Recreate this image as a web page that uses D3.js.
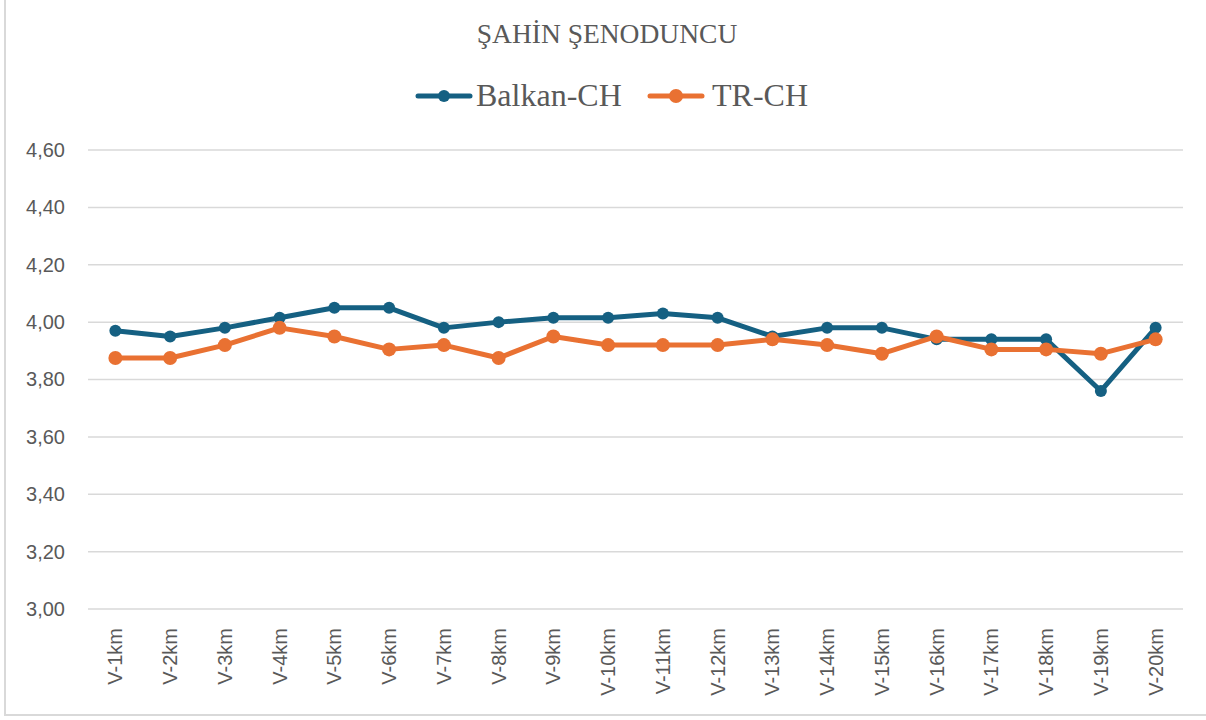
<!DOCTYPE html>
<html>
<head>
<meta charset="utf-8">
<script src="https://cdn.jsdelivr.net/npm/d3@7"></script>
<style>
  body { margin: 0; background: #fff; }
  svg { display: block; }
</style>
</head>
<body>
<div class="chart"></div>
<script>
// data
const categories = ["V-1km", "V-2km", "V-3km", "V-4km", "V-5km", "V-6km", "V-7km", "V-8km", "V-9km", "V-10km",
  "V-11km", "V-12km", "V-13km", "V-14km", "V-15km", "V-16km", "V-17km", "V-18km", "V-19km", "V-20km"];
const balkanCH = [3.97, 3.95, 3.98, 4.015, 4.05, 4.05, 3.98, 4.00, 4.015, 4.015,
  4.03, 4.015, 3.95, 3.98, 3.98, 3.94, 3.94, 3.94, 3.76, 3.98];
const trCH = [3.875, 3.875, 3.92, 3.98, 3.95, 3.905, 3.92, 3.875, 3.95, 3.92,
  3.92, 3.92, 3.94, 3.92, 3.89, 3.95, 3.905, 3.905, 3.89, 3.94];
const yTicks = [3.0, 3.2, 3.4, 3.6, 3.8, 4.0, 4.2, 4.4, 4.6];
const seriesNames = ["Balkan-CH", "TR-CH"];

const series = [
  { name: seriesNames[0], values: balkanCH, color: "#156082", r: 6 },
  { name: seriesNames[1], values: trCH, color: "#e97132", r: 7 }
];

const W = 1206, H = 720;
const margin = { top: 150, right: 23, bottom: 111, left: 88 };
const width = W - margin.left - margin.right,
  height = H - margin.top - margin.bottom;

const svg = d3.select(".chart").append("svg")
  .attr("width", W)
  .attr("height", H);

// chart frame (only left and bottom edges visible)
svg.append("line").attr("x1", 5).attr("x2", 5).attr("y1", 0).attr("y2", 716)
  .attr("stroke", "#d9d9d9").attr("stroke-width", 2);
svg.append("line").attr("x1", 4).attr("x2", W).attr("y1", 715).attr("y2", 715)
  .attr("stroke", "#d9d9d9").attr("stroke-width", 2);

// title
svg.append("text")
  .attr("x", 607).attr("y", 43)
  .attr("text-anchor", "middle")
  .style("font-family", "'Liberation Serif', 'Times New Roman', serif")
  .style("font-size", "27.5px")
  .style("fill", "#595959")
  .text("ŞAHİN ŞENODUNCU");

// legend
const legendPos = [418, 650];
series.forEach(function (s, i) {
  const lg = svg.append("g").attr("transform", `translate(${legendPos[i]}, 96)`);
  lg.append("line").attr("x1", 0).attr("x2", 52).attr("y1", 0).attr("y2", 0)
    .attr("stroke", s.color).attr("stroke-width", 5).attr("stroke-linecap", "round");
  lg.append("circle").attr("cx", 26).attr("cy", 0).attr("r", s.r).attr("fill", s.color);
  lg.append("text")
    .attr("x", i === 0 ? 58 : 62).attr("y", 10)
    .style("font-family", "'Liberation Serif', 'Times New Roman', serif")
    .style("font-size", "32px")
    .style("fill", "#595959")
    .text(s.name);
});

const g = svg.append("g").attr("transform", `translate(${margin.left}, ${margin.top})`);

const x = d3.scaleBand().domain(categories).range([0, width]);
const y = d3.scaleLinear().domain([3.0, 4.6]).range([height, 0]);

// gridlines
g.append("g")
  .selectAll("line")
  .data(yTicks)
  .enter()
  .append("line")
  .attr("x1", 0)
  .attr("x2", width)
  .attr("y1", function (d) { return y(d); })
  .attr("y2", function (d) { return y(d); })
  .attr("stroke", "#d9d9d9")
  .attr("stroke-width", 1.5);

// y axis
const fmt = function (d) { return d3.format(".2f")(d).replace(".", ","); };
const yAxis = g.append("g")
  .call(d3.axisLeft(y).tickValues(yTicks).tickFormat(fmt).tickSize(0).tickPadding(23));
yAxis.select(".domain").remove();
yAxis.selectAll("text")
  .style("font-family", "'Liberation Sans', Arial, sans-serif")
  .style("font-size", "20px")
  .style("fill", "#595959");

// x axis
const xAxis = g.append("g")
  .attr("transform", `translate(0, ${height})`)
  .call(d3.axisBottom(x).tickSize(0));
xAxis.select(".domain").remove();
xAxis.selectAll("text")
  .style("font-family", "'Liberation Sans', Arial, sans-serif")
  .style("font-size", "20px")
  .style("fill", "#595959")
  .style("text-anchor", "end")
  .attr("dx", "-19px")
  .attr("dy", "0.35em")
  .attr("y", 0)
  .attr("transform", "rotate(-90)");

// lines and markers
const line = d3.line()
  .x(function (d, i) { return x(categories[i]) + x.bandwidth() / 2; })
  .y(function (d) { return y(d); });

series.forEach(function (s) {
  g.append("path")
    .datum(s.values)
    .attr("fill", "none")
    .attr("stroke", s.color)
    .attr("stroke-width", 5)
    .attr("stroke-linejoin", "round")
    .attr("d", line);

  g.append("g")
    .selectAll("circle")
    .data(s.values)
    .enter()
    .append("circle")
    .attr("cx", function (d, i) { return x(categories[i]) + x.bandwidth() / 2; })
    .attr("cy", function (d) { return y(d); })
    .attr("r", s.r)
    .attr("fill", s.color);
});
</script>
</body>
</html>
